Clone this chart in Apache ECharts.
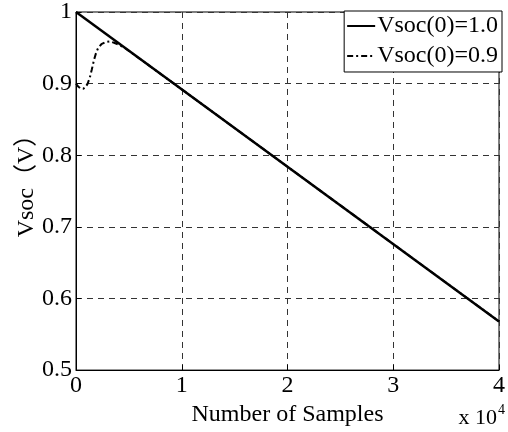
<!DOCTYPE html>
<html lang="en">
<head>
    <meta charset="UTF-8">
    <title>Vsoc</title>
    <script src="https://cdn.jsdelivr.net/npm/echarts@6/dist/echarts.min.js"></script>
    <style>
        html, body {margin: 0; padding: 0; background: #fff;}
        #main {width: 508px; height: 432px;}
    </style>
</head>
<body>
<div id="main"></div>
<script type="text/javascript">
    // 数据（横轴为采样点数）
    var seriesNames = ['Vsoc(0)=1.0', 'Vsoc(0)=0.9'];
    var vsoc10 = [[0, 1.0], [40000, 0.568]];
    var vsoc09 = [[0, 0.9], [200, 0.896], [450, 0.893], [700, 0.893], [900, 0.895], [1100, 0.900],
        [1300, 0.908], [1500, 0.920], [1700, 0.933], [1900, 0.943], [2100, 0.950], [2400, 0.955],
        [2800, 0.958], [3200, 0.959], [3600, 0.957], [4100, 0.954], [4600, 0.950],
        [10000, 0.892], [20000, 0.784], [30000, 0.676], [40000, 0.568]];
    var xTicks = [0, 10000, 20000, 30000, 40000];
    var yTicks = [0.5, 0.6, 0.7, 0.8, 0.9, 1];

    var font = "'Liberation Serif', 'Noto Sans CJK SC', serif";
    var fs = 24;
    var myChart = echarts.init(document.getElementById('main'));
    var gridLine = {show: true, lineStyle: {color: '#333', type: [6, 5], width: 1}};

    var option = {
        animation: false,
        grid: {left: 76, right: 5, top: 9, bottom: 61, show: true, borderColor: '#000', borderWidth: 1},
        legend: {
            orient: 'vertical', right: 6, top: 11,
            backgroundColor: '#fff', borderColor: '#000', borderWidth: 1,
            padding: [3, 4, 4, 2], itemGap: 6, itemWidth: 28, itemHeight: 14,
            itemStyle: {opacity: 0},
            textStyle: {fontFamily: font, fontSize: fs, color: '#000', padding: [0, 0, 0, -3]},
            data: seriesNames
        },
        xAxis: {
            type: 'value', min: xTicks[0], max: xTicks[xTicks.length - 1], interval: 10000,
            name: 'Number of Samples', nameLocation: 'middle', nameGap: 27,
            nameTextStyle: {fontFamily: font, fontSize: fs, color: '#000'},
            axisLine: {lineStyle: {color: '#000'}},
            axisTick: {inside: true, length: 5, lineStyle: {color: '#000'}},
            axisLabel: {
                fontFamily: font, fontSize: fs, color: '#000', margin: 4,
                formatter: function (v) { return String(v / 10000); }
            },
            splitLine: gridLine
        },
        yAxis: {
            type: 'value', min: yTicks[0], max: yTicks[yTicks.length - 1], interval: 0.1,
            axisLine: {lineStyle: {color: '#000'}},
            axisTick: {inside: true, length: 5, lineStyle: {color: '#000'}},
            axisLabel: {
                fontFamily: font, fontSize: fs, color: '#000', margin: 4,
                formatter: function (v) { return String(+v.toFixed(1)); }
            },
            splitLine: gridLine
        },
        graphic: [{
            type: 'text', x: 27, y: 180, rotation: Math.PI / 2,
            style: {
                text: 'Vsoc（V）', fill: '#000', font: fs + 'px ' + font,
                align: 'center', verticalAlign: 'middle'
            }
        }, {
            type: 'text', right: 3, bottom: 3,
            style: {
                text: '{a|x 10}{b|4}',
                rich: {
                    a: {fontFamily: font, fontSize: 22, color: '#000', verticalAlign: 'bottom'},
                    b: {fontFamily: font, fontSize: 14, color: '#000', verticalAlign: 'top', padding: [0, 0, 12, 1]}
                }
            }
        }],
        series: [
            {
                name: seriesNames[0], type: 'line', data: vsoc10, z: 3,
                showSymbol: false, symbol: 'none',
                lineStyle: {color: '#000', width: 2.5, type: 'solid'}, itemStyle: {color: '#000'}
            },
            {
                name: seriesNames[1], type: 'line', data: vsoc09, z: 2,
                showSymbol: false, symbol: 'none',
                lineStyle: {color: '#000', width: 2, type: [6, 3, 2, 3]}, itemStyle: {color: '#000'}
            }
        ]
    };
    myChart.setOption(option);
</script>
</body>
</html>
